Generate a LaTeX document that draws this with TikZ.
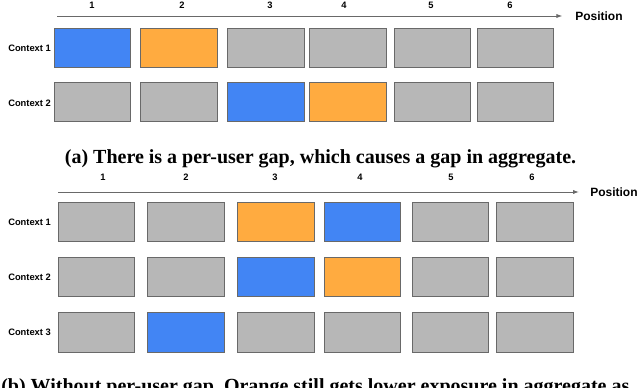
\documentclass[tikz,border=0pt]{standalone}
\usepackage{fontspec}
\setmainfont{Liberation Serif}
\setsansfont{Liberation Sans}
\usetikzlibrary{arrows.meta}
\definecolor{slotblue}{RGB}{66,133,244}
\definecolor{slotorange}{RGB}{255,171,64}
\definecolor{slotgray}{RGB}{183,183,183}
\definecolor{slotedge}{RGB}{105,105,105}

\begin{document}
\begin{tikzpicture}[x=0.75pt, y=-0.75pt, every node/.style={font=\sffamily\bfseries\fontsize{7}{8}\selectfont}, >={Latex[length=4.5pt, width=3.2pt]}]
	\tikzset{slot/.style={draw=slotedge, line width=0.9pt, minimum width=57.5pt, minimum height=29.5pt, inner sep=0pt}, ctx/.style={anchor=west, inner sep=0pt}, axislabel/.style={anchor=west, inner sep=0pt, font=\sffamily\bfseries\fontsize{9}{10}\selectfont}, caption/.style={inner sep=0pt, font=\rmfamily\bfseries\fontsize{15}{18}\selectfont}}
	\useasboundingbox (0,0) rectangle (640,388);
	\clip (0,0) rectangle (640,388);
	% (a) two contexts
	\foreach \x [count=\i] in {92,182,270,344,431,510} \node (na\i) at (\x,5) {\i};
	\coordinate (axa) at (57,16);
	\node[axislabel] (posa) at (575,16) {Position};
	\draw[->, slotedge, line width=0.7pt, shorten >=9.5pt] (axa) -- (posa.west);
	\node[ctx] (ca1) at (8,48) {Context 1};
	\node[ctx] (ca2) at (8,103) {Context 2};
	\foreach \x/\c [count=\i] in {92.5/slotblue,179/slotorange,266/slotgray,348/slotgray,432.5/slotgray,515.5/slotgray} \node[slot, fill=\c] (a1\i) at (\x,48) {};
	\foreach \x/\c [count=\i] in {92.5/slotgray,179/slotgray,266/slotblue,348/slotorange,432.5/slotgray,515.5/slotgray} \node[slot, fill=\c] (a2\i) at (\x,102) {};
	\node[caption, anchor=base] (capa) at (320.5,164) {(a) There is a per-user gap, which causes a gap in aggregate.};
	% (b) three contexts
	\foreach \x [count=\i] in {103,186,275,360,451,532} \node (nb\i) at (\x,177) {\i};
	\coordinate (axb) at (58,192);
	\node[axislabel] (posb) at (590,192) {Position};
	\draw[->, slotedge, line width=0.7pt, shorten >=8.25pt] (axb) -- (posb.west);
	\node[ctx] (cb1) at (8,222) {Context 1};
	\node[ctx] (cb2) at (8,277) {Context 2};
	\node[ctx] (cb3) at (8,332) {Context 3};
	\foreach \x/\c [count=\i] in {96.5/slotgray,186/slotgray,276/slotorange,362.5/slotblue,450.5/slotgray,535/slotgray} \node[slot, fill=\c] (b1\i) at (\x,222) {};
	\foreach \x/\c [count=\i] in {96.5/slotgray,186/slotgray,276/slotblue,362.5/slotorange,450.5/slotgray,535/slotgray} \node[slot, fill=\c] (b2\i) at (\x,277) {};
	\foreach \x/\c [count=\i] in {96.5/slotgray,186/slotblue,276/slotgray,362.5/slotgray,450.5/slotgray,535/slotgray} \node[slot, fill=\c] (b3\i) at (\x,332.5) {};
	\node[caption, anchor=base west] (capb) at (1,393) {(b) Without per-user gap, Orange still gets lower exposure in aggregate as};
\end{tikzpicture}
\end{document}
